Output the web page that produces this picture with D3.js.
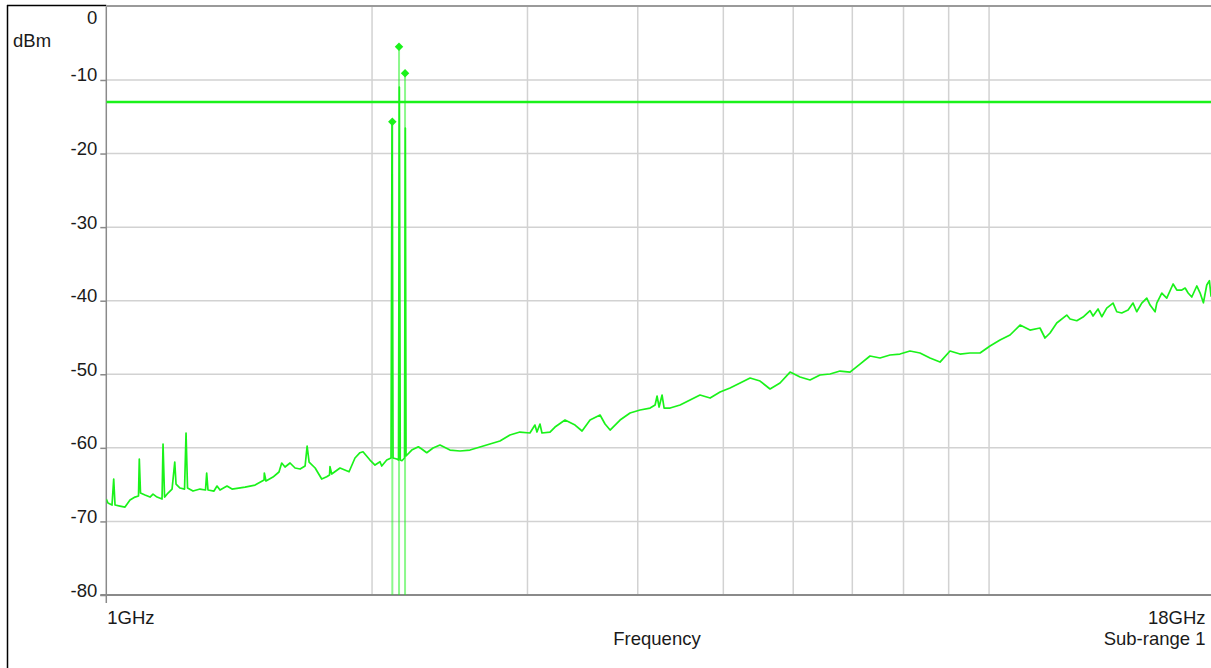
<!DOCTYPE html>
<html>
<head>
<meta charset="utf-8">
<script src="https://cdn.jsdelivr.net/npm/d3@7/dist/d3.min.js"></script>
<style>
  html, body { margin: 0; padding: 0; background: #fff; }
  svg { display: block; }
  text { font-family: "Liberation Sans", Arial, sans-serif; fill: #1a1a1a; }
</style>
</head>
<body>
<svg id="chart" width="1211" height="668"></svg>
<script>
// ---------------- data ----------------
const freqGHz = [
  1.000, 1.0044, 1.0150, 1.0195, 1.0230, 1.0364, 1.0500, 1.0638, 1.0777, 1.0876,
  1.0899, 1.0933, 1.1062, 1.1208, 1.1296, 1.1415, 1.1565, 1.1595, 1.1641, 1.1747,
  1.1871, 1.1955, 1.1995, 1.2121, 1.2264, 1.2312, 1.2360, 1.2538, 1.2768, 1.2953,
  1.2993, 1.3038, 1.3243, 1.3348, 1.3453, 1.3700, 1.3881, 1.4361, 1.4741, 1.5091,
  1.5101, 1.5167, 1.5446, 1.5690, 1.5802, 1.5939, 1.6149, 1.6362, 1.6578, 1.6796,
  1.6885, 1.6973, 1.7242, 1.7539, 1.7770, 1.7901, 1.7922, 1.8003, 1.8397, 1.8836,
  1.9130, 1.9381, 1.9535, 1.9893, 2.0155, 2.0421, 2.0511, 2.0782, 2.1016, 2.1071,
  2.1126, 2.1331, 2.1431, 2.1476, 2.1528, 2.1621, 2.1769, 2.1815, 2.1854, 2.2182,
  2.2568, 2.2768, 2.3068, 2.3450, 2.3878, 2.4510, 2.5156, 2.5822, 2.6503, 2.7203,
  2.7921, 2.8658, 2.9414, 3.0192, 3.0589, 3.0752, 3.0993, 3.1156, 3.1814, 3.2233,
  3.3086, 3.3963, 3.4589, 3.5318, 3.6251, 3.6728, 3.7213, 3.8194, 3.9203, 4.0240,
  4.1305, 4.1849, 4.2066, 4.2287, 4.2619, 4.2845, 4.3523, 4.4669, 4.5845, 4.7053,
  4.8306, 4.9578, 5.0886, 5.2240, 5.3617, 5.5031, 5.6479, 5.7969, 5.9508, 6.1078,
  6.2689, 6.4340, 6.6050, 6.7793, 6.9580, 7.1415, 7.3310, 7.5244, 7.7228, 7.9264,
  8.1369, 8.3515, 8.5718, 8.7992, 9.0312, 9.2693, 9.5136, 9.7678, 10.025, 10.290,
  10.563, 10.842, 11.127, 11.421, 11.571, 11.724, 11.931, 12.246, 12.353, 12.571,
  12.779, 13.014, 13.116, 13.289, 13.418, 13.592, 13.819, 13.953, 14.135, 14.371,
  14.558, 14.699, 14.893, 15.089, 15.219, 15.420, 15.488, 15.692, 15.896, 16.162,
  16.319, 16.535, 16.677, 16.808, 16.968, 17.192, 17.342, 17.491, 17.645, 17.767,
  17.845
];
const levelDbm = [
  -66.96, -67.50, -67.77, -64.24, -67.77, -67.91, -68.05, -67.10, -66.69, -66.55,
  -61.52, -66.14, -66.41, -66.69, -66.28, -66.69, -66.96, -59.48, -66.69, -66.14,
  -65.60, -61.93, -64.92, -65.46, -65.60, -57.99, -65.46, -65.87, -65.60, -65.73,
  -63.42, -65.73, -65.87, -65.19, -65.73, -65.19, -65.60, -65.33, -65.06, -64.37,
  -63.42, -64.51, -63.97, -63.28, -62.06, -62.60, -62.06, -62.74, -62.88, -62.47,
  -59.75, -61.93, -62.74, -64.24, -63.93, -63.70, -62.56, -63.56, -62.74, -63.25,
  -61.38, -60.66, -60.53, -61.66, -62.34, -61.89, -62.47, -61.66, -61.38, -15.71,
  -61.38, -61.52, -61.66, -10.96, -61.66, -61.75, -61.38, -16.53, -61.11, -60.30,
  -59.85, -60.16, -60.66, -60.02, -59.62, -60.30, -60.43, -60.30, -59.89, -59.48,
  -59.07, -58.26, -57.85, -57.98, -56.90, -57.85, -56.76, -57.98, -57.85, -57.17,
  -56.22, -56.90, -57.71, -56.22, -55.54, -56.76, -57.58, -56.22, -55.27, -54.86,
  -54.59, -54.18, -52.96, -54.45, -52.82, -54.59, -54.59, -54.18, -53.50, -52.82,
  -53.23, -52.41, -51.87, -51.19, -50.51, -50.92, -52.00, -51.19, -49.70, -50.37,
  -50.78, -50.10, -49.96, -49.56, -49.70, -48.61, -47.52, -47.79, -47.38, -47.25,
  -46.84, -47.11, -47.79, -48.34, -46.84, -47.25, -47.11, -47.11, -46.16, -45.35,
  -44.66, -43.31, -43.99, -43.71, -45.07, -44.39, -43.03, -41.95, -42.49, -42.72,
  -42.22, -41.36, -42.08, -41.13, -42.18, -41.00, -40.32, -41.50, -41.67, -41.27,
  -40.32, -41.50, -40.32, -39.64, -40.59, -41.50, -40.32, -38.96, -39.64, -37.73,
  -38.55, -38.55, -38.28, -38.96, -39.50, -38.00, -38.96, -40.28, -37.87, -37.28,
  -39.46
];
// peak markers (max hold)
const markerFreqGHz = [2.1087, 2.1459, 2.1798];
const markerDbm = [-15.67, -5.48, -9.09];
// limit line
const limitDbm = -13;
// axes
const yTicks = [0, -10, -20, -30, -40, -50, -60, -70, -80];
const yTickLabels = ["0", "-10", "-20", "-30", "-40", "-50", "-60", "-70", "-80"];
const xGridGHz = [2, 3, 4, 5, 6, 7, 8, 9, 10];
const xDomainGHz = [1, 18];
const xEndLabels = ["1GHz", "18GHz"];
const yUnit = "dBm";
const xTitle = "Frequency";
const subRange = "Sub-range 1";

// ---------------- drawing ----------------
(function () {
const svg = d3.select("#chart");
const W = 1211, H = 668;
const pL = 106.3, pT = 6.4, pB = 595;
const x = d3.scaleLog().domain(xDomainGHz).range([pL, 1214.4]);
const y = d3.scaleLinear().domain([-80, 0]).range([pB, pT]);
const green = "#1af21a";
const font = 18.5;

// outer frame (black, left + top-left)
svg.append("line").attr("x1", 7.5).attr("x2", 7.5).attr("y1", 5).attr("y2", H)
  .attr("stroke", "#000").attr("stroke-width", 1.5);
svg.append("line").attr("x1", 7).attr("x2", pL).attr("y1", 5.5).attr("y2", 5.5)
  .attr("stroke", "#000").attr("stroke-width", 1.5);

// clip
svg.append("defs").append("clipPath").attr("id", "plot")
  .append("rect").attr("x", pL).attr("y", pT - 1).attr("width", W - pL).attr("height", pB - pT + 1);

// horizontal grid
svg.append("g").selectAll("line").data(yTicks.filter(d => d !== 0 && d !== -80)).join("line")
  .attr("x1", pL).attr("x2", W).attr("y1", d => y(d)).attr("y2", d => y(d))
  .attr("stroke", "#d2d2d2").attr("stroke-width", 1.5);
// vertical grid
svg.append("g").selectAll("line").data(xGridGHz).join("line")
  .attr("x1", d => x(d)).attr("x2", d => x(d)).attr("y1", pT).attr("y2", pB)
  .attr("stroke", "#d2d2d2").attr("stroke-width", 1.5);

// top border
svg.append("line").attr("x1", pL).attr("x2", W).attr("y1", 6).attr("y2", 6)
  .attr("stroke", "#9a9a9a").attr("stroke-width", 2);

// y axis
const yAxis = d3.axisLeft(y).tickValues(yTicks).tickSize(6)
  .tickFormat((d, i) => yTickLabels[i]);
const gy = svg.append("g").attr("transform", `translate(${pL},0)`).call(yAxis);
gy.select(".domain").attr("stroke", "#8a8a8a").attr("stroke-width", 1.5)
  .attr("d", `M0,${pT}V${pB + 8}`);
gy.selectAll(".tick line").attr("stroke", "#8a8a8a").attr("stroke-width", 1.5);
gy.selectAll(".tick text")
  .attr("font-size", font).attr("font-family", "Liberation Sans, Arial, sans-serif")
  .attr("fill", "#1a1a1a").attr("x", -9)
  .attr("dy", d => d === 0 ? "17.5" : "1");
gy.selectAll(".tick").filter(d => d === 0).select("line").remove();

// x axis line
svg.append("line").attr("x1", pL - 6).attr("x2", W).attr("y1", pB).attr("y2", pB)
  .attr("stroke", "#8a8a8a").attr("stroke-width", 2);

// y unit
svg.append("text").attr("x", 13).attr("y", 46.5).attr("font-size", font).text(yUnit);

// x labels
svg.append("text").attr("x", x(xDomainGHz[0]) + 1).attr("y", 624).attr("font-size", font).text(xEndLabels[0]);
svg.append("text").attr("x", 1205.5).attr("y", 624).attr("font-size", font)
  .attr("text-anchor", "end").text(xEndLabels[1]);
svg.append("text").attr("x", 657).attr("y", 644.5).attr("font-size", font)
  .attr("text-anchor", "middle").text(xTitle);
svg.append("text").attr("x", 1205.5).attr("y", 644.5).attr("font-size", font)
  .attr("text-anchor", "end").text(subRange);

const plot = svg.append("g").attr("clip-path", "url(#plot)");

// max-hold spike lines (pale)
plot.selectAll("line.peak").data(markerFreqGHz).join("line").attr("class", "peak")
  .attr("x1", d => x(d)).attr("x2", d => x(d))
  .attr("y1", pB).attr("y2", (d, i) => y(markerDbm[i]))
  .attr("stroke", green).attr("stroke-opacity", 0.5).attr("stroke-width", 2);

// limit line
plot.append("line").attr("x1", pL).attr("x2", W)
  .attr("y1", y(limitDbm)).attr("y2", y(limitDbm))
  .attr("stroke", green).attr("stroke-width", 2.5);

// trace
const line = d3.line().x(d => x(d[0])).y(d => y(d[1]));
plot.append("path").datum(freqGHz.map((f, i) => [f, levelDbm[i]]))
  .attr("d", line).attr("fill", "none").attr("stroke", green)
  .attr("stroke-width", 1.7).attr("stroke-linejoin", "round");

// markers (diamonds)
plot.selectAll("path.mk").data(markerFreqGHz).join("path").attr("class", "mk")
  .attr("d", d3.symbol(d3.symbolSquare).size(36))
  .attr("transform", (d, i) => `translate(${x(d)},${y(markerDbm[i])}) rotate(45)`)
  .attr("fill", green);
})();
</script>
</body>
</html>
